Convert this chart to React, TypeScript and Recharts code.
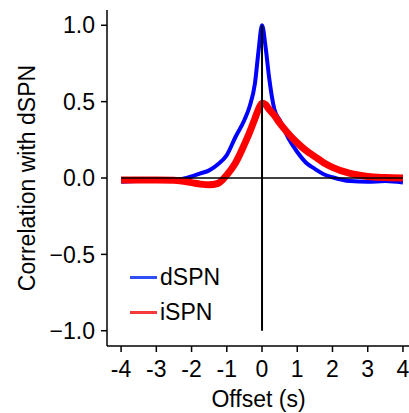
import { LineChart, Line, XAxis, YAxis, ReferenceLine } from "recharts";

const offsets = [-4, -3.5, -3, -2.5, -2, -1.75, -1.5, -1.25, -1, -0.75, -0.5, -0.35, -0.2, -0.1, 0, 0.1, 0.2, 0.35, 0.5, 0.75, 1, 1.25, 1.5, 1.75, 2, 2.5, 3, 3.5, 4];
const dSPN = [-0.025, -0.02, -0.02, -0.015, 0.01, 0.03, 0.05, 0.09, 0.15, 0.27, 0.38, 0.47, 0.62, 0.83, 1.0, 0.86, 0.66, 0.45, 0.38, 0.26, 0.17, 0.1, 0.06, 0.025, 0.005, -0.02, -0.025, -0.02, -0.03];
const iSPN = [-0.013, -0.013, -0.013, -0.015, -0.03, -0.04, -0.045, -0.035, 0.02, 0.1, 0.22, 0.3, 0.39, 0.45, 0.49, 0.48, 0.45, 0.41, 0.36, 0.29, 0.23, 0.18, 0.14, 0.1, 0.07, 0.03, 0.01, 0.003, 0];
const xTicks = [-4, -3, -2, -1, 0, 1, 2, 3, 4];
const yTicks = [-1, -0.5, 0, 0.5, 1];
const seriesNames = ["dSPN", "iSPN"];
const legendColors = ["#2f4ff5", "#f53a3a"];

const rows = offsets.map((x, i) => ({ x, d: dSPN[i], i: iSPN[i] }));

const font = "'Liberation Sans', Arial, sans-serif";
const ink = "#000";

// y title, rotated
function YTitle(props: any) {
  const vb = props.viewBox ?? {};
  const cy = vb.y + vb.height / 2;
  const cx = 27;
  return (
    <text x={cx} y={cy} transform={`rotate(-90, ${cx}, ${cy})`} textAnchor="middle" dominantBaseline="central" fontSize={23} fontFamily={font} fill={ink}>
      Correlation with dSPN
    </text>
  );
}

function LegendBox() {
  return (
    <div style={{ position: "absolute", left: 130, top: 260 }}>
      {seriesNames.map((t, k) => (
        <div key={t} style={{ display: "flex", alignItems: "center", height: 35 }}>
          <span style={{ display: "inline-block", width: 27, height: 3, background: legendColors[k], marginRight: 3 }} />
          <span style={{ fontSize: 23, fontFamily: font, color: ink }}>{t}</span>
        </div>
      ))}
    </div>
  );
}

export default function App() {
  return (
    <div style={{ position: "absolute", left: 0, top: 0, width: 409, height: 413, overflow: "hidden", background: "#fff" }}>
      <LineChart width={420} height={413} data={rows} margin={{ top: 10, right: 10, bottom: 0, left: 0 }}>
        <XAxis
          type="number"
          dataKey="x"
          domain={[-4.4, 4.2]}
          ticks={xTicks}
          tickFormatter={(v) => String(v)}
          allowDataOverflow
          height={67}
          tickSize={6}
          tickMargin={9}
          stroke={ink}
          strokeWidth={1.5}
          tick={{ fill: ink, fontSize: 23, fontFamily: font }}
          label={{ value: "Offset (s)", position: "insideBottom", offset: 6, fill: ink, fontSize: 23, fontFamily: font }}
        />
        <YAxis
          type="number"
          domain={[-1.1, 1.1]}
          ticks={yTicks}
          tickFormatter={(v) => Number(v).toFixed(1).replace("-", "\u2212")}
          width={107}
          tickSize={6}
          tickMargin={6}
          stroke={ink}
          strokeWidth={1.5}
          tick={{ fill: ink, fontSize: 23, fontFamily: font }}
          label={<YTitle />}
        />
        <Line type="monotone" dataKey="d" name="dSPN" stroke="#0000ff" strokeWidth={4} dot={false} isAnimationActive={false} />
        <Line type="monotone" dataKey="i" name="iSPN" stroke="#ff0000" strokeWidth={7} dot={false} isAnimationActive={false} />
        <ReferenceLine segment={[{ x: -4, y: 0 }, { x: 4, y: 0 }]} stroke={ink} strokeWidth={1.5} />
        <ReferenceLine segment={[{ x: 0, y: -1 }, { x: 0, y: 1 }]} stroke={ink} strokeWidth={2} />
      </LineChart>
      <LegendBox />
    </div>
  );
}
